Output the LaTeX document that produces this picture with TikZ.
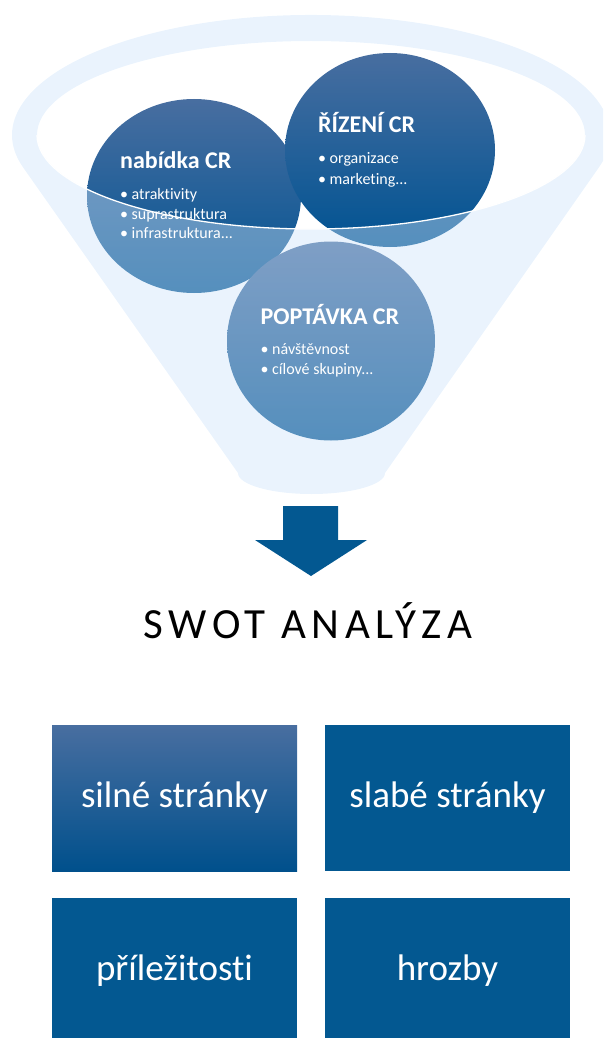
\documentclass[tikz,border=0pt]{standalone}
\usepackage{fontspec}
\setmainfont{Carlito}[Ligatures=NoCommon]
\usetikzlibrary{shapes.geometric}
\definecolor{funlt}{RGB}{204,227,250}
\definecolor{ctop}{RGB}{72,110,160}
\definecolor{cmid}{RGB}{0,86,152}
\definecolor{cbot}{RGB}{0,83,146}
\definecolor{boxc}{RGB}{3,88,145}
\definecolor{boxbot}{RGB}{0,80,140}
\tikzset{
  ball/.style={ellipse, draw=none, top color=ctop, middle color=cmid, bottom color=cbot, inner sep=0pt, outer sep=0pt},
  ttl/.style={anchor=base west, text=white, font=\bfseries\fontsize{24}{29}\selectfont, inner sep=0pt},
  itm/.style={anchor=base west, text=white, font=\fontsize{16}{19}\selectfont, inner sep=0pt},
  swotbox/.style={rectangle, draw=none, minimum width=245pt, minimum height=146pt, inner sep=0pt, text=white, font=\fontsize{37}{44}\selectfont},
}
\newcommand{\bul}[1]{\makebox[11.5pt][l]{\textbullet}#1}
\begin{document}
\begin{tikzpicture}[x=1pt,y=-1pt]
\useasboundingbox (0,0) rectangle (603,1038);
\clip (0,0) rectangle (603,1038);
% circles (behind the funnel front)
\node[ball, minimum width=214pt, minimum height=194pt] (nab) at (194,196) {};
\node[ball, minimum width=210pt, minimum height=194pt] (riz) at (390,150) {};
\node[ball, minimum width=208pt, minimum height=199pt] (pop) at (331,341) {};
% funnel front (translucent), with the opening cut out
\path[fill=funlt, fill opacity=0.42, even odd rule]
  (311,135) ++(15.7:299 and 120)
  arc[start angle=15.7, end angle=-195.75, x radius=299, y radius=120]
  -- (238,473)
  arc[start angle=180, end angle=0, x radius=73.5, y radius=21]
  -- cycle
  (311,135) ellipse [x radius=274, y radius=94];
% white lip of the opening
\draw[white, line width=1.3pt] (37,135) arc[start angle=180, end angle=0, x radius=274, y radius=94];
% texts in circles
\node[ttl] (nabt) at (120,168) {nabídka CR};
\node[itm] (nab1) at (120,199) {\bul{atraktivity}};
\node[itm] (nab2) at (120,219) {\bul{suprastruktura}};
\node[itm] (nab3) at (120,238.5) {\bul{infrastruktura...}};
\node[ttl] (rizt) at (318,132.5) {ŘÍZENÍ CR};
\node[itm] (riz1) at (318,163) {\bul{organizace}};
\node[itm] (riz2) at (318,184) {\bul{marketing...}};
\node[ttl] (popt) at (260.5,324) {POPTÁVKA CR};
\node[itm] (pop1) at (260.5,354) {\bul{návštěvnost}};
\node[itm] (pop2) at (260.5,374) {\bul{cílové skupiny...}};
% arrow
\fill[boxc] (283,506) -- (338,506) -- (338,540) -- (367,540) -- (311,576) -- (255,540) -- (283,540) -- cycle;
% title
\node[anchor=base, inner sep=0pt, font=\fontsize{43}{50}\selectfont\addfontfeature{LetterSpace=13}] (swot) at (308,638) {SWOT ANALÝZA};
% boxes
\node[swotbox, top color=ctop, middle color=cmid, bottom color=boxbot] (s) at (174.5,798) {silné stránky};
\node[swotbox, fill=boxc] (w) at (447.5,798) {slabé stránky};
\node[swotbox, fill=boxc] (o) at (174.5,971) {příležitosti};
\node[swotbox, fill=boxc] (t) at (447.5,971) {hrozby};
\end{tikzpicture}
\end{document}
